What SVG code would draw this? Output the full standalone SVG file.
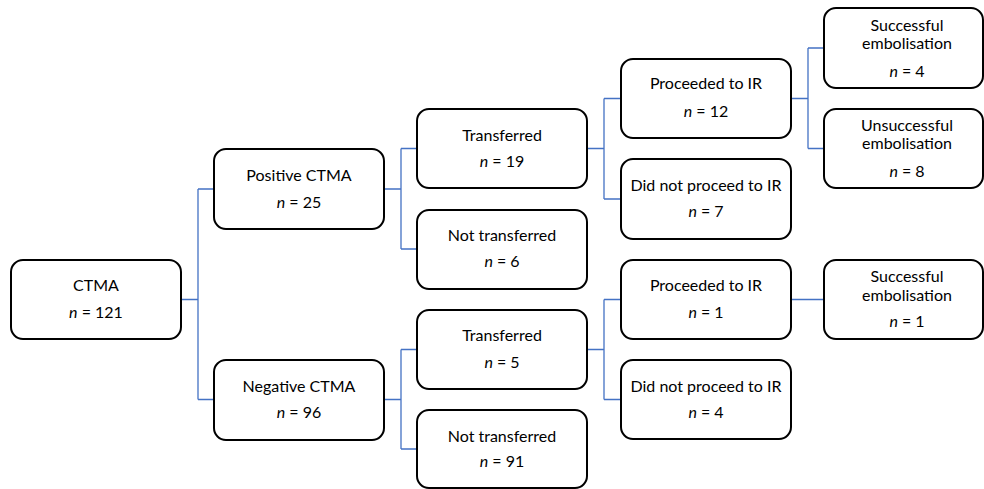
<svg xmlns="http://www.w3.org/2000/svg" width="984" height="489" viewBox="0 0 984 489">
<style>
.box{fill:#fff;stroke:#000;stroke-width:2}
.t{font-family:Lato,"Liberation Sans",sans-serif;font-size:16px;fill:#000;text-anchor:middle}
.i{font-style:italic}
.c{fill:none;stroke:#4472C4;stroke-width:1.3}
</style>
<rect width="984" height="489" fill="#fff"/>
<g id="connectors">
<path class="c" d="M181,299.5H198M198,189V399.5M198,189H214M198,399.5H214"/>
<path class="c" d="M384,189H401M401,148.5V249M401,148.5H417M401,249H417"/>
<path class="c" d="M384,399.5H401M401,349.5V449M401,349.5H417M401,449H417"/>
<path class="c" d="M587,148.5H604M604,98.5V199M604,98.5H621M604,199H621"/>
<path class="c" d="M587,349.5H604M604,299.5V399.5M604,299.5H621M604,399.5H621"/>
<path class="c" d="M791,98.5H808M808,48V148.5M808,48H824M808,148.5H824"/>
<path class="c" d="M791,299.5H824"/>
</g>
<g id="n-ctma"><rect class="box" x="11" y="260" width="170" height="79" rx="12"/>
<text class="t" x="96" y="291">CTMA</text><text class="t" x="96" y="318"><tspan class="i">n</tspan> = 121</text></g>
<g id="n-pos"><rect class="box" x="214" y="149" width="170" height="80" rx="12"/>
<text class="t" x="299" y="181">Positive CTMA</text><text class="t" x="299" y="208"><tspan class="i">n</tspan> = 25</text></g>
<g id="n-neg"><rect class="box" x="214" y="360" width="170" height="80" rx="12"/>
<text class="t" x="299" y="392">Negative CTMA</text><text class="t" x="299" y="418"><tspan class="i">n</tspan> = 96</text></g>
<g id="n-tr1"><rect class="box" x="417" y="109" width="170" height="79" rx="12"/>
<text class="t" x="502" y="141">Transferred</text><text class="t" x="502" y="167"><tspan class="i">n</tspan> = 19</text></g>
<g id="n-nt1"><rect class="box" x="417" y="210" width="170" height="79" rx="12"/>
<text class="t" x="502" y="241">Not transferred</text><text class="t" x="502" y="267"><tspan class="i">n</tspan> = 6</text></g>
<g id="n-tr2"><rect class="box" x="417" y="310" width="170" height="79" rx="12"/>
<text class="t" x="502" y="341">Transferred</text><text class="t" x="502" y="368"><tspan class="i">n</tspan> = 5</text></g>
<g id="n-nt2"><rect class="box" x="417" y="410" width="170" height="78" rx="12"/>
<text class="t" x="502" y="442">Not transferred</text><text class="t" x="502" y="467"><tspan class="i">n</tspan> = 91</text></g>
<g id="n-pir1"><rect class="box" x="621" y="59" width="170" height="79" rx="12"/>
<text class="t" x="706" y="89">Proceeded to IR</text><text class="t" x="706" y="117"><tspan class="i">n</tspan> = 12</text></g>
<g id="n-dnp1"><rect class="box" x="621" y="159" width="170" height="80" rx="12"/>
<text class="t" x="706" y="191">Did not proceed to IR</text><text class="t" x="706" y="217"><tspan class="i">n</tspan> = 7</text></g>
<g id="n-pir2"><rect class="box" x="621" y="260" width="170" height="79" rx="12"/>
<text class="t" x="706" y="291">Proceeded to IR</text><text class="t" x="706" y="318"><tspan class="i">n</tspan> = 1</text></g>
<g id="n-dnp2"><rect class="box" x="621" y="360" width="170" height="79" rx="12"/>
<text class="t" x="706" y="392">Did not proceed to IR</text><text class="t" x="706" y="418"><tspan class="i">n</tspan> = 4</text></g>
<g id="n-se1"><rect class="box" x="824" y="8" width="159" height="80" rx="12"/>
<text class="t" x="907" y="31">Successful</text><text class="t" x="907" y="49">embolisation</text><text class="t" x="907" y="77"><tspan class="i">n</tspan> = 4</text></g>
<g id="n-ue1"><rect class="box" x="824" y="109" width="159" height="79" rx="12"/>
<text class="t" x="907" y="131">Unsuccessful</text><text class="t" x="907" y="149">embolisation</text><text class="t" x="907" y="177"><tspan class="i">n</tspan> = 8</text></g>
<g id="n-se2"><rect class="box" x="824" y="260" width="159" height="79" rx="12"/>
<text class="t" x="907" y="282">Successful</text><text class="t" x="907" y="301">embolisation</text><text class="t" x="907" y="327"><tspan class="i">n</tspan> = 1</text></g>
</svg>
